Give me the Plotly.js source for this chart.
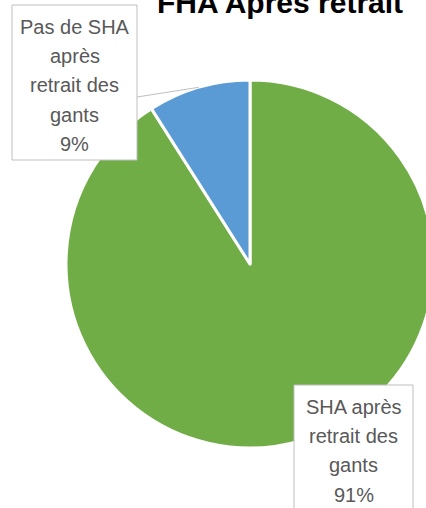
<!DOCTYPE html>
<html>
<head>
<meta charset="utf-8">
<script src="https://cdn.plot.ly/plotly-3.0.1.min.js"></script>
<style>
  html, body { margin: 0; padding: 0; overflow: hidden; background: white; }
  #chart { width: 500px; height: 508px; }
</style>
</head>
<body>
<div id="chart"></div>
<script>
const labels = ['SHA après retrait des gants', 'Pas de SHA après retrait des gants'];
const boxLines = [
    ['SHA après', 'retrait des', 'gants', '91%'],
    ['Pas de SHA', 'après', 'retrait des', 'gants', '9%']
];
const values = [91, 9];
const colors = ['#70ad47', '#5b9bd5'];

const W = 500, H = 508;
const m = { l: 66, r: 66, t: 80, b: 60 };
const size = 368;
const lineGap = 29.2;

// pixel -> paper helpers
const px = v => (v - m.l) / size;
const py = v => 1 - (v - m.t) / size;

// midpoint of the small slice on the rim (clockwise from top)
const total = values.reduce((s, v) => s + v, 0);
const startSmall = values[0] / total;
const midAngle = 2 * Math.PI * (startSmall + values[1] / total / 2);
const tx = 0.5 + 0.5 * Math.sin(midAngle);
const ty = 0.5 + 0.5 * Math.cos(midAngle);

// label boxes: rect in pixels + first line centre
const boxes = [
    { x0: 294, x1: 413, y0: 385, y1: 530, cx: 353.5, firstY: 407 },
    { x0: 12, x1: 137, y0: 5, y1: 160, cx: 74.5, firstY: 27 }
];

const shapes = [];
const annotations = [];
boxes.forEach((b, i) => {
    shapes.push({
        type: 'rect', xref: 'paper', yref: 'paper', layer: 'above',
        x0: px(b.x0), x1: px(b.x1), y0: py(b.y1), y1: py(b.y0),
        fillcolor: 'white',
        line: { color: '#bfbfbf', width: 1 }
    });
    boxLines[i].forEach((t, k) => {
        annotations.push({
            xref: 'paper', yref: 'paper',
            x: px(b.cx), y: py(b.firstY + k * lineGap),
            xanchor: 'center', yanchor: 'middle',
            text: t, showarrow: false,
            font: { family: 'Liberation Sans, Arial, sans-serif', size: 20, color: '#595959' }
        });
    });
});

shapes.push({
    type: 'line', xref: 'paper', yref: 'paper',
    x0: px(137), y0: py(97), x1: tx, y1: ty,
    line: { color: '#bfbfbf', width: 1 }
});

const trace = {
    type: 'pie',
    labels: labels,
    values: values,
    sort: false,
    direction: 'clockwise',
    rotation: 0,
    textinfo: 'none',
    hoverinfo: 'none',
    marker: { colors: colors, line: { color: 'white', width: 3 } },
    showlegend: false
};

const layout = {
    width: W,
    height: H,
    margin: m,
    paper_bgcolor: 'white',
    title: {
        text: '<b>FHA Après retrait</b>',
        font: { family: 'Liberation Sans, Arial, sans-serif', size: 30, color: '#000000' },
        xref: 'container', yref: 'container',
        x: 280 / W, xanchor: 'center',
        y: 1 - 2.5 / H, yanchor: 'middle'
    },
    shapes: shapes,
    annotations: annotations
};

Plotly.newPlot('chart', [trace], layout, { staticPlot: true, displayModeBar: false });
</script>
</body>
</html>
